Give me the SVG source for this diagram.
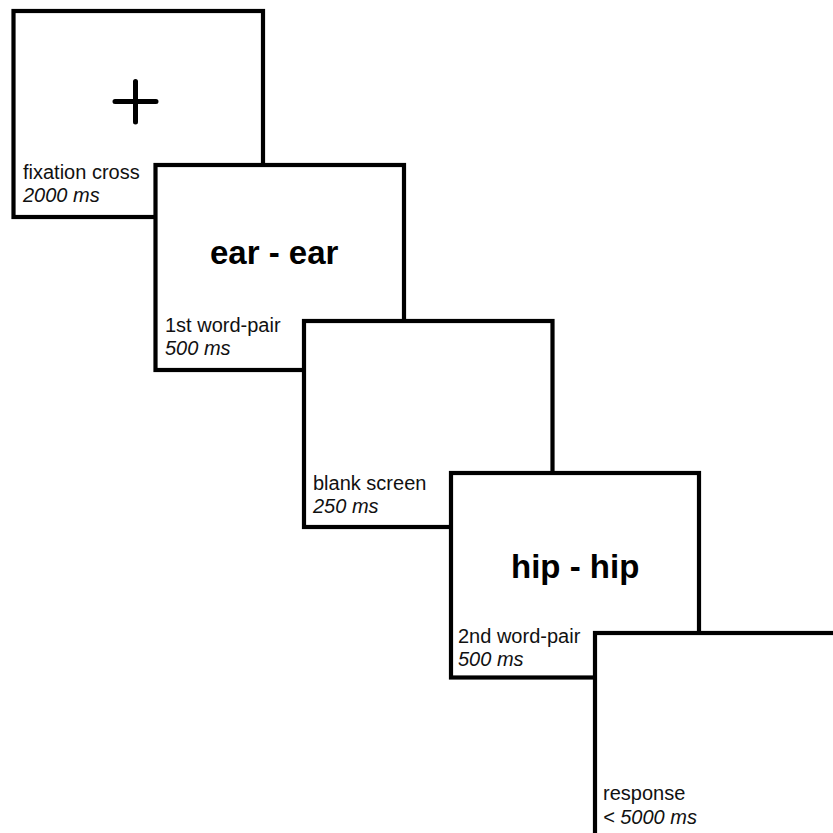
<svg xmlns="http://www.w3.org/2000/svg" width="833" height="833" viewBox="0 0 833 833">
<style>
.scr{fill:#fff;stroke:#000;stroke-width:4.2}
.lbl{font-family:"Liberation Sans",Arial,sans-serif;font-size:20px;fill:#111}
.dur{font-family:"Liberation Sans",Arial,sans-serif;font-size:20px;font-style:italic;fill:#111}
.stim{font-family:"Liberation Sans",Arial,sans-serif;font-size:33px;font-weight:bold;fill:#000}
</style>
<rect width="833" height="833" fill="#fff"/>
<g id="fixation">
<rect class="scr" x="13.5" y="11" width="249.5" height="206"/>
<path d="M115 101.5H156M135.5 81.5V122" stroke="#000" stroke-width="5" stroke-linecap="round" fill="none"/>
<text class="lbl" x="23" y="179">fixation cross</text>
<text class="dur" x="23" y="202">2000 ms</text>
</g>
<g id="word1">
<rect class="scr" x="155.5" y="165" width="248.5" height="205"/>
<text class="stim" x="210" y="264">ear - ear</text>
<text class="lbl" x="165" y="332">1st word-pair</text>
<text class="dur" x="165" y="355">500 ms</text>
</g>
<g id="blank">
<rect class="scr" x="304" y="321" width="248.5" height="206"/>
<text class="lbl" x="313" y="490">blank screen</text>
<text class="dur" x="313" y="513">250 ms</text>
</g>
<g id="word2">
<rect class="scr" x="451" y="473" width="248" height="204.5"/>
<text class="stim" x="511" y="578">hip - hip</text>
<text class="lbl" x="458" y="643">2nd word-pair</text>
<text class="dur" x="458" y="666">500 ms</text>
</g>
<g id="response">
<rect class="scr" x="595" y="633" width="249" height="210"/>
<text class="lbl" x="603" y="800">response</text>
<text class="dur" x="603" y="824">&lt; 5000 ms</text>
</g>
<g id="connectors"/>
</svg>
